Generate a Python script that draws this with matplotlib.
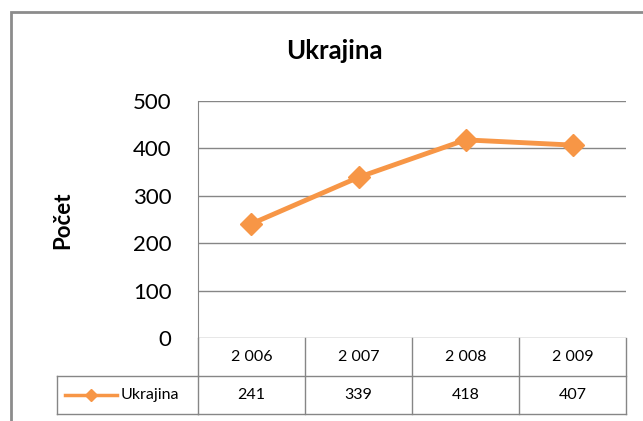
import matplotlib.pyplot as plt
from matplotlib.patches import Rectangle
from matplotlib.lines import Line2D
from matplotlib.transforms import blended_transform_factory

plt.rcParams['font.family'] = ['Lato', 'DejaVu Sans']

years = ["2 006", "2 007", "2 008", "2 009"]
values = [241, 339, 418, 407]
series_name = "Ukrajina"
title = "Ukrajina"
y_label = "Počet"
y_ticks = [0, 100, 200, 300, 400, 500]

ORANGE = "#F79646"
GRID = "#868686"

W, H = 643, 421
fig = plt.figure(figsize=(W / 100, H / 100), dpi=100)

# outer chart border (runs off the right and bottom edges)
fig.patches.append(Rectangle((10.5 / W, -0.05), 1.1, 1 - 11.5 / H + 0.05,
                             transform=fig.transFigure, fill=False,
                             edgecolor="#8c8c8c", lw=2))

left, right, top, bottom = 198, 626, 101, 338
ax = fig.add_axes([left / W, 1 - bottom / H, (right - left) / W, (bottom - top) / H])

x = [i + 0.5 for i in range(len(years))]
ax.plot(x, values, color=ORANGE, lw=3.5, marker="D", markersize=11,
        markeredgecolor=ORANGE, zorder=3, clip_on=False)

ax.set_xlim(0, len(years))
ax.set_ylim(0, 500)
ax.set_yticks(y_ticks)
ax.set_yticklabels([str(t) for t in y_ticks], fontsize=16)
ax.tick_params(axis="y", length=0, pad=19)
ax.set_xticks([])
ax.yaxis.grid(True, color=GRID, lw=1)
for s in ["top", "right", "bottom"]:
    ax.spines[s].set_visible(False)
ax.spines["left"].set_color(GRID)
ax.set_axisbelow(True)

fig.text(334 / W, 1 - 51 / H, title, ha="center", va="center",
         fontsize=18.5, fontweight="bold")
fig.text(63 / W, 1 - 220 / H, y_label, ha="center", va="center",
         rotation=90, fontsize=16, fontweight="bold")

# data table under the plot
ph = bottom - top
row = 38 / ph
trans = blended_transform_factory(ax.transData, ax.transAxes)
n = len(years)
kw = dict(color=GRID, lw=1, clip_on=False)

# horizontal lines
ax.add_line(Line2D([0, n], [-row, -row], transform=trans, **kw))
ax.add_line(Line2D([0, n], [-2 * row, -2 * row], transform=trans, **kw))
leg_left = (57 - left) / (right - left)
ax.add_line(Line2D([leg_left, 0], [-row, -row], transform=ax.transAxes, **kw))
ax.add_line(Line2D([leg_left, 0], [-2 * row, -2 * row], transform=ax.transAxes, **kw))
ax.add_line(Line2D([leg_left, leg_left], [-row, -2 * row], transform=ax.transAxes, **kw))
# vertical lines
ax.add_line(Line2D([0, 0], [0, -2 * row], transform=trans, **kw))
for i in range(1, n + 1):
    ax.add_line(Line2D([i, i], [0, -2 * row], transform=trans, **kw))

for xi, yr, v in zip(x, years, values):
    ax.text(xi, -0.5 * row, yr, transform=trans, ha="center", va="center", fontsize=11.5)
    ax.text(xi, -1.5 * row, str(v), transform=trans, ha="center", va="center", fontsize=11.5)

# legend key inside the table
key_y = -1.5 * row
kx0 = (65 - left) / (right - left)
kx1 = (117 - left) / (right - left)
ax.add_line(Line2D([kx0, kx1], [key_y, key_y], transform=ax.transAxes,
                   color=ORANGE, lw=2.5, clip_on=False))
ax.add_line(Line2D([(kx0 + kx1) / 2], [key_y], transform=ax.transAxes, color=ORANGE,
                   marker="D", markersize=6, clip_on=False))
ax.text((121 - left) / (right - left), key_y, series_name, transform=ax.transAxes,
        ha="left", va="center", fontsize=11.5)

fig.savefig("out.png", dpi=100)
